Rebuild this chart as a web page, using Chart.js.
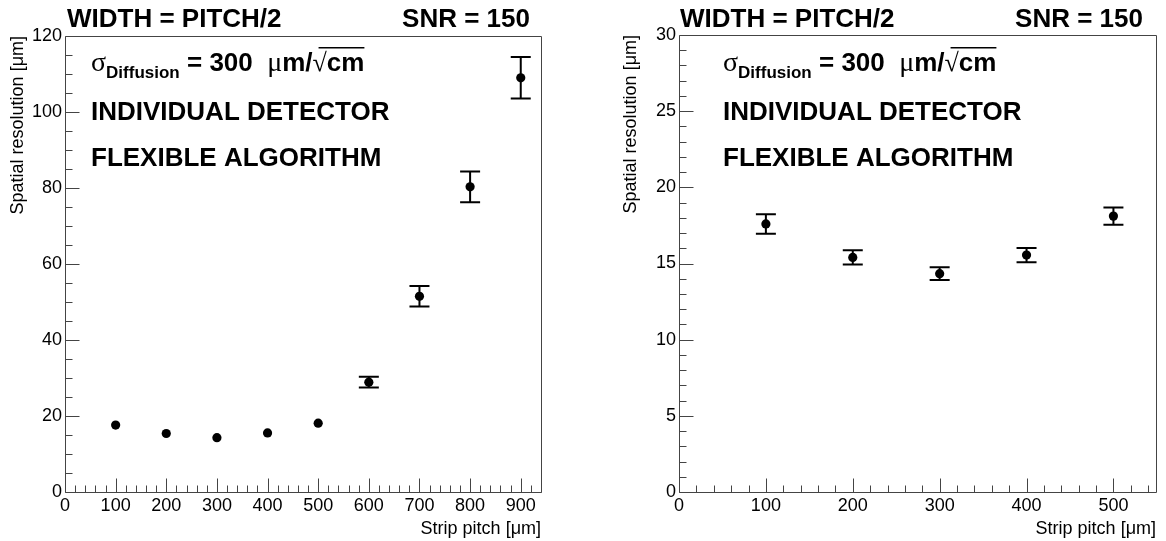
<!DOCTYPE html>
<html>
<head>
<meta charset="utf-8">
<script src="https://cdn.jsdelivr.net/npm/chart.js@4.4.1/dist/chart.umd.min.js"></script>
<style>
  html, body { margin: 0; padding: 0; background: #fff; }
  #wrap { position: relative; width: 1166px; height: 541px; }
  .panel { position: absolute; top: 0; width: 583px; height: 541px; }
</style>
</head>
<body>
<div id="wrap">
  <div class="panel" style="left:0"><canvas id="left" width="583" height="541"></canvas></div>
  <div class="panel" style="left:583px"><canvas id="right" width="583" height="541"></canvas></div>
</div>
<script>
// data
const pitchLeft      = [100, 200, 300, 400, 500, 600, 700, 800, 900];
const resolutionLeft = [17.6, 15.4, 14.3, 15.55, 18.1, 28.9, 51.5, 80.3, 109.0];
const errorLeft      = [0.64, 0.47, 0.42, 0.46, 0.57, 1.4, 2.7, 4.05, 5.45];

const pitchRight      = [100, 200, 300, 400, 500];
const resolutionRight = [17.6, 15.4, 14.33, 15.55, 18.11];
const errorRight      = [0.64, 0.47, 0.42, 0.46, 0.57];

const xTicksLeft  = [0, 100, 200, 300, 400, 500, 600, 700, 800, 900];
const yTicksLeft  = [0, 20, 40, 60, 80, 100, 120];
const xTicksRight = [0, 100, 200, 300, 400, 500];
const yTicksRight = [0, 5, 10, 15, 20, 25, 30];

const SANS = '"Liberation Sans", Arial, Helvetica, sans-serif';
const SERIF = '"Liberation Serif", "Times New Roman", serif';
Chart.defaults.font.family = SANS;
Chart.defaults.color = '#000';

const FRAME = '#444';

// ROOT style frame with inward ticks (major + minor)
const rootFrame = {
  id: 'rootFrame',
  afterDatasetsDraw(chart, args, o) {
    const ctx = chart.ctx, a = chart.chartArea;
    const x = chart.scales.x, y = chart.scales.y;
    const L = Math.round(a.left) + 0.5, R = Math.round(a.right) + 0.5;
    const T = Math.round(a.top) + 0.5, B = Math.round(a.bottom) + 0.5;
    ctx.save();
    ctx.strokeStyle = FRAME;
    ctx.lineWidth = 1;
    ctx.beginPath();
    ctx.rect(L, T, R - L, B - T);
    var n = Math.round(y.max / o.yMinor), every = Math.round(o.yMajor / o.yMinor);
    for (var i = 0; i <= n; i++) {
      var py = Math.round(y.getPixelForValue(i * o.yMinor)) + 0.5;
      var len = i % every === 0 ? 14 : 7;
      ctx.moveTo(L, py); ctx.lineTo(L + len, py);
    }
    n = Math.floor(x.max / o.xMinor + 1e-6); every = Math.round(o.xMajor / o.xMinor);
    for (var j = 0; j <= n; j++) {
      var px = Math.round(x.getPixelForValue(j * o.xMinor)) + 0.5;
      var len2 = j % every === 0 ? 14 : 7;
      ctx.moveTo(px, B); ctx.lineTo(px, B - len2);
    }
    ctx.stroke();
    ctx.restore();
  }
};

// error bars with caps, skipped when hidden under the marker
const errorBars = {
  id: 'errorBars',
  afterDatasetsDraw(chart, args, o) {
    const ctx = chart.ctx, x = chart.scales.x, y = chart.scales.y;
    const pts = chart.data.datasets[0].data;
    ctx.save();
    ctx.strokeStyle = '#000';
    ctx.lineWidth = 2;
    pts.forEach(function(p, i) {
      var px = x.getPixelForValue(p.x);
      var yc = y.getPixelForValue(p.y);
      var yt = y.getPixelForValue(p.y + o.errors[i]);
      var yb = y.getPixelForValue(p.y - o.errors[i]);
      if (yc - yt <= 4.8) return;
      ctx.beginPath();
      ctx.moveTo(px, yt); ctx.lineTo(px, yb);
      ctx.moveTo(px - 10, yt); ctx.lineTo(px + 10, yt);
      ctx.moveTo(px - 10, yb); ctx.lineTo(px + 10, yb);
      ctx.stroke();
    });
    ctx.restore();
  }
};

// header and in-frame captions
const captions = {
  id: 'captions',
  afterDraw(chart, args, o) {
    const ctx = chart.ctx;
    ctx.save();
    ctx.fillStyle = '#000';
    ctx.textBaseline = 'alphabetic';
    const big = 'bold 26px ' + SANS;
    ctx.font = big;
    ctx.textAlign = 'left';
    ctx.fillText('WIDTH = PITCH/2', o.titleX, 27);
    ctx.textAlign = 'right';
    ctx.fillText('SNR = 150', o.snrX, 27);
    ctx.textAlign = 'left';
    ctx.fillText('INDIVIDUAL DETECTOR', o.textX, 120);
    ctx.fillText('FLEXIBLE ALGORITHM', o.textX, 166);

    // sigma_Diffusion = 300 um/sqrt(cm)
    const segs = [
      { t: '\u03C3', f: '28px ' + SERIF, dy: 0 },
      { t: 'Diffusion', f: 'bold 17px ' + SANS, dy: 7 },
      { t: ' = 300  ', f: big, dy: 0 },
      { t: '\u03BC', f: '28px ' + SERIF, dy: 0 },
      { t: 'm/', f: big, dy: 0 },
      { t: '\u221A', f: '26px ' + SERIF, dy: 0 },
      { t: 'cm', f: big, dy: 0, over: true }
    ];
    var cx = o.textX, base = 71, rootStart = 0;
    segs.forEach(function(s) {
      ctx.font = s.f;
      if (s.t === '\u221A') rootStart = cx + 6;
      ctx.fillText(s.t, cx, base + s.dy);
      cx += ctx.measureText(s.t).width;
      if (s.over) {
        ctx.fillRect(rootStart, base - 24, cx - rootStart, 1.5);
      }
    });
    ctx.restore();
  }
};

function makePanel(id, xs, ys, errs, cfg) {
  return new Chart(document.getElementById(id), {
    type: 'scatter',
    data: {
      datasets: [{
        data: xs.map(function(v, i) { return { x: v, y: ys[i] }; }),
        backgroundColor: '#000',
        borderWidth: 0,
        pointRadius: 4.6,
        pointHoverRadius: 4.6
      }]
    },
    options: {
      responsive: false,
      animation: false,
      events: [],
      layout: { padding: { top: cfg.top, right: cfg.right, left: 0, bottom: 0 } },
      plugins: {
        legend: { display: false },
        tooltip: { enabled: false },
        rootFrame: { xMinor: 20, xMajor: 100, yMinor: cfg.yMinor, yMajor: cfg.yMajor },
        errorBars: { errors: errs },
        captions: { titleX: cfg.titleX, snrX: cfg.snrX, textX: cfg.textX }
      },
      scales: {
        x: {
          type: 'linear', min: 0, max: cfg.xMax,
          afterBuildTicks: function(s) { s.ticks = cfg.xTicks.map(function(v) { return { value: v }; }); },
          afterFit: function(s) { s.height = 49; },
          grid: { display: false, drawTicks: false },
          border: { display: false },
          ticks: { font: { size: 18 }, padding: 3, maxRotation: 0, autoSkip: false, includeBounds: false },
          title: { display: true, text: 'Strip pitch [\u03BCm]', align: 'end', font: { size: 18 }, padding: { top: 0, bottom: 1 } }
        },
        y: {
          type: 'linear', min: 0, max: cfg.yMax,
          afterBuildTicks: function(s) { s.ticks = cfg.yTicks.map(function(v) { return { value: v }; }); },
          afterFit: function(s) { s.width = cfg.yWidth; },
          grid: { display: false, drawTicks: false },
          border: { display: false },
          ticks: { font: { size: 18 }, padding: 3, autoSkip: false, includeBounds: false },
          title: { display: true, text: 'Spatial resolution [\u03BCm]', align: 'end', font: { size: 18 }, padding: { top: cfg.yTitlePad, bottom: 0 } }
        }
      }
    },
    plugins: [rootFrame, errorBars, captions]
  });
}

makePanel('left', pitchLeft, resolutionLeft, errorLeft, {
  xMax: 940, yMax: 120, yMinor: 5, yMajor: 20,
  xTicks: xTicksLeft, yTicks: yTicksLeft,
  top: 36, right: 42, yWidth: 65, yTitlePad: 7,
  titleX: 67, snrX: 530, textX: 91
});

makePanel('right', pitchRight, resolutionRight, errorRight, {
  xMax: 549, yMax: 30, yMinor: 1, yMajor: 5,
  xTicks: xTicksRight, yTicks: yTicksRight,
  top: 35, right: 10, yWidth: 96, yTitlePad: 37,
  titleX: 97, snrX: 560, textX: 140
});
</script>
</body>
</html>
